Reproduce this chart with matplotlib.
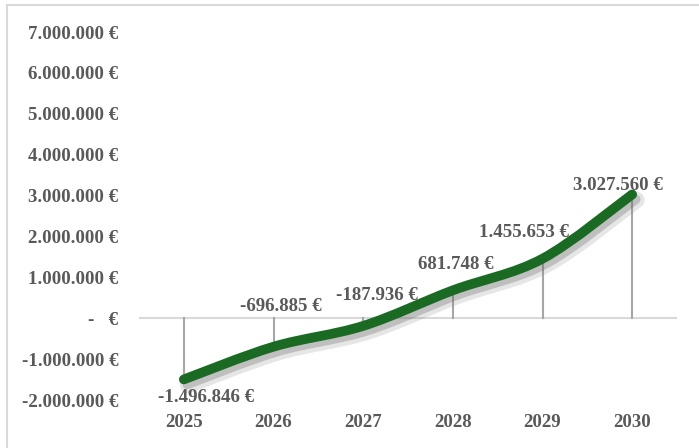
import matplotlib
matplotlib.use("Agg")
import matplotlib.pyplot as plt
from matplotlib.path import Path
from matplotlib.patches import PathPatch
from matplotlib.lines import Line2D
import matplotlib.patheffects as pe

years = ["2025", "2026", "2027", "2028", "2029", "2030"]
values = [-1496846, -696885, -187936, 681748, 1455653, 3027560]
value_labels = ["-1.496.846 €", "-696.885 €", "-187.936 €", "681.748 €", "1.455.653 €", "3.027.560 €"]
ytick_values = [-2000000, -1000000, 0, 1000000, 2000000, 3000000, 4000000, 5000000, 6000000, 7000000]
ytick_labels = ["-2.000.000 €", "-1.000.000 €", "-   €", "1.000.000 €", "2.000.000 €", "3.000.000 €",
                "4.000.000 €", "5.000.000 €", "6.000.000 €", "7.000.000 €"]
label_offsets = [(22, -18), (7, 40), (14, 30), (3, 26), (-19, 26), (-14, 9)]

W, H = 699, 448
fig = plt.figure(figsize=(W / 100, H / 100), dpi=100)
fig.patch.set_facecolor("white")
ax = fig.add_axes([139 / W, 1 - 400 / H, (677 - 139) / W, (400 - 32) / H])
ax.set_facecolor("none")

FS = 13.6
font = dict(family="Liberation Serif", weight="bold", size=FS, color="#595959")

xs = list(range(len(values)))
ax.set_xlim(-0.5, len(values) - 0.5)
ax.set_ylim(-2000000, 7000000)

# zero axis line
ax.axhline(0, color="#d9d9d9", lw=1.5, zorder=1)
# drop lines
for x, v in zip(xs, values):
    ax.plot([x, x], [0, v], color="#a6a6a6", lw=1.5, zorder=2)

# smoothed line (Bezier, Excel-like)
verts = [(xs[0], values[0])]
codes = [Path.MOVETO]
n = len(values)
for i in range(n - 1):
    p0 = (xs[max(i - 1, 0)], values[max(i - 1, 0)])
    p1 = (xs[i], values[i])
    p2 = (xs[i + 1], values[i + 1])
    p3 = (xs[min(i + 2, n - 1)], values[min(i + 2, n - 1)])
    c1 = (p1[0] + (p2[0] - p0[0]) / 6, p1[1] + (p2[1] - p0[1]) / 6)
    c2 = (p2[0] - (p3[0] - p1[0]) / 6, p2[1] - (p3[1] - p1[1]) / 6)
    verts += [c1, c2, p2]
    codes += [Path.CURVE4] * 3
patch = PathPatch(Path(verts, codes), facecolor="none", edgecolor="#1b6a23", lw=7,
                  capstyle="round", joinstyle="round", zorder=4)
patch.set_path_effects([
    pe.SimpleLineShadow(offset=(3, -4), shadow_color="#777777", alpha=0.18, linewidth=12),
    pe.SimpleLineShadow(offset=(2.5, -3.5), shadow_color="#666666", alpha=0.3),
    pe.Normal()])
ax.add_patch(patch)

for x, v, lab, (dx, dy) in zip(xs, values, value_labels, label_offsets):
    ax.annotate(lab, (x, v), xytext=(dx, dy), textcoords="offset pixels",
                ha="center", va="center", zorder=5, **font)

ax.set_yticks(ytick_values)
ax.set_yticklabels(ytick_labels)
ax.set_xticks(xs)
ax.set_xticklabels(years)
ax.tick_params(axis="both", length=0)
ax.tick_params(axis="y", pad=15)
ax.tick_params(axis="x", pad=10)
for lbl in ax.get_xticklabels() + ax.get_yticklabels():
    lbl.set_fontfamily("Liberation Serif")
    lbl.set_fontweight("bold")
    lbl.set_fontsize(FS)
    lbl.set_color("#595959")
for s in ax.spines.values():
    s.set_visible(False)

# chart border (top and left visible)
fig.add_artist(Line2D([6.5 / W, 6.5 / W], [0, 1 - 5 / H], transform=fig.transFigure, color="#d9d9d9", lw=1.5))
fig.add_artist(Line2D([6.5 / W, 1], [1 - 5.5 / H, 1 - 5.5 / H], transform=fig.transFigure, color="#d9d9d9", lw=1.5))

fig.savefig("out.png", dpi=100, facecolor="white")
